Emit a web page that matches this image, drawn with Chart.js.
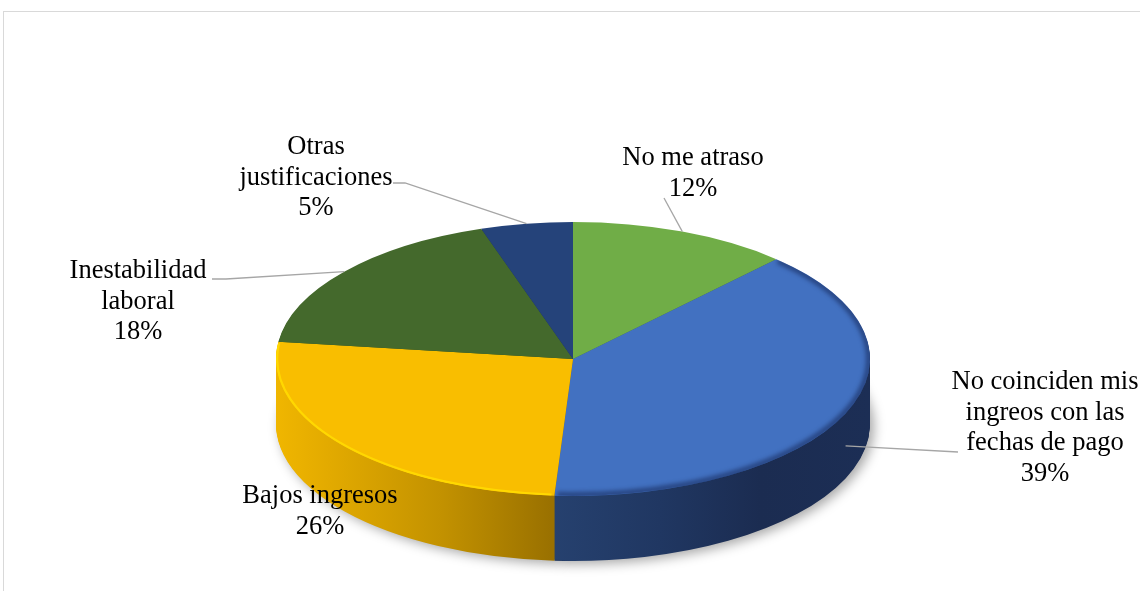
<!DOCTYPE html>
<html>
<head>
<meta charset="utf-8">
<script src="https://cdn.jsdelivr.net/npm/chart.js@4"></script>
<style>
  body { margin: 0; background: #fff; }
  #wrap { position: absolute; left: 0; top: 0; width: 1140px; height: 591px; }
  .frame { position: absolute; left: 3px; top: 11px; right: 0; bottom: 0;
           border-left: 1px solid #d9d9d9; border-top: 1px solid #d9d9d9; }
  canvas { position: absolute; left: 0; top: 0; }
</style>
</head>
<body>
<div id="wrap">
  <div class="frame"></div>
  <canvas id="pie" width="1140" height="591"></canvas>
</div>
<script>
const categories = [
  ['No me atraso'],
  ['No coinciden mis', 'ingreos con las', 'fechas de pago'],
  ['Bajos ingresos'],
  ['Inestabilidad', 'laboral'],
  ['Otras', 'justificaciones']
];
const values = [12, 39, 26, 18, 5];

const topColors = ['#70ad47', '#4271c1', '#f9be00', '#44692c', '#25437a'];
// side wall gradients, stops given in page x
const sideStops = [
  [[276, '#5a8c38'], [870, '#3f6527']],
  [[551, '#26416f'], [660, '#203762'], [760, '#1b2c51'], [870, '#1c2e55']],
  [[276, '#f0b600'], [330, '#e2aa00'], [440, '#c39200'], [551, '#9a7100']],
  [[276, '#33511f'], [870, '#2a431a']],
  [[276, '#1c3360'], [870, '#162a50']]
];
// rim effect on the top face: [colour, width, blur] or null
const rimStyle = [null, ['rgba(22,40,88,0.6)', 6, 2], ['#ffd800', 2.5, 0.6], null, null];

// ellipse the pie is laid onto
const PIE = { x: 573, y: 359, rx: 297, ry: 137, depth: 65 };

const labelPos = [
  { x: 693, y: 158, from: [664, 198] },
  { x: 1045, y: 382, from: [958, 452] },
  { x: 320, y: 496 },
  { x: 138, y: 271, from: [212, 279], elbow: 226 },
  { x: 316, y: 147, from: [393, 183], elbow: 405 }
];

function toPie(ctx, arc, dy) {
  const R = arc.outerRadius;
  ctx.translate(PIE.x, PIE.y + dy);
  ctx.scale(PIE.rx / R, PIE.ry / R);
  ctx.translate(-arc.x, -arc.y);
}

function sideFill(ctx, arc, stops) {
  const R = arc.outerRadius;
  const lx = sx => arc.x + (sx - PIE.x) * R / PIE.rx;
  const x0 = stops[0][0], x1 = stops[stops.length - 1][0];
  const g = ctx.createLinearGradient(lx(x0), 0, lx(x1), 0);
  stops.forEach(([sx, c]) => g.addColorStop((sx - x0) / (x1 - x0), c));
  return g;
}

function drawArcAs(ctx, arc, fill) {
  const el = Object.create(arc);
  el.options = Object.assign({}, arc.options, { backgroundColor: fill, borderWidth: 0 });
  el.draw(ctx);
}

const pie3d = {
  id: 'pie3d',
  beforeDatasetsDraw(chart) {
    const ctx = chart.ctx;
    const arcs = chart.getDatasetMeta(0).data;
    const fills = arcs.map((a, i) => sideFill(ctx, a, sideStops[i]));
    for (let d = PIE.depth; d >= 1; d--) {
      ctx.save();
      if (d === PIE.depth) {
        ctx.shadowColor = 'rgba(0,0,0,0.35)';
        ctx.shadowBlur = 12;
        ctx.shadowOffsetX = 4;
        ctx.shadowOffsetY = 3;
      }
      toPie(ctx, arcs[0], d);
      arcs.forEach((a, i) => drawArcAs(ctx, a, fills[i]));
      ctx.restore();
    }
    ctx.save();
    toPie(ctx, arcs[0], 0);
  },
  afterDatasetsDraw(chart) {
    const ctx = chart.ctx;
    ctx.restore();
    // soft bevel along the outer edge of the top face
    const arcs = chart.getDatasetMeta(0).data;
    ctx.save();
    ctx.beginPath();
    ctx.ellipse(PIE.x, PIE.y, PIE.rx, PIE.ry, 0, 0, Math.PI * 2);
    ctx.clip();
    arcs.forEach((a, i) => {
      const st = rimStyle[i];
      if (!st) return;
      ctx.save();
      ctx.filter = 'blur(' + st[2] + 'px)';
      ctx.strokeStyle = st[0];
      ctx.lineWidth = st[1];
      ctx.beginPath();
      ctx.ellipse(PIE.x, PIE.y, PIE.rx - 1, PIE.ry - 1, 0, a.startAngle + 0.01, a.endAngle - 0.01);
      ctx.stroke();
      ctx.restore();
    });
    ctx.restore();
  },
  afterDraw(chart) {
    const ctx = chart.ctx;
    const arcs = chart.getDatasetMeta(0).data;
    const total = values.reduce((s, v) => s + v, 0);
    ctx.save();
    ctx.font = '26.5px "Liberation Serif", "Times New Roman", serif';
    ctx.fillStyle = '#000';
    ctx.textAlign = 'center';
    ctx.textBaseline = 'middle';
    ctx.strokeStyle = '#a6a6a6';
    ctx.lineWidth = 1.3;
    arcs.forEach((a, i) => {
      const p = labelPos[i];
      const lines = categories[i].concat(Math.round(values[i] / total * 100) + '%');
      lines.forEach((t, k) => ctx.fillText(t, p.x, p.y + k * 30.7));
      if (p.from) {
        const mid = (a.startAngle + a.endAngle) / 2;
        const s = Math.sin(mid);
        const ax = PIE.x + PIE.rx * Math.cos(mid);
        const ay = PIE.y + PIE.ry * s + (s > 0.2 ? PIE.depth / 2 : 0);
        ctx.beginPath();
        ctx.moveTo(p.from[0], p.from[1]);
        if (p.elbow) ctx.lineTo(p.elbow, p.from[1]);
        ctx.lineTo(ax, ay);
        ctx.stroke();
      }
    });
    ctx.restore();
  }
};

new Chart(document.getElementById('pie'), {
  type: 'pie',
  data: {
    labels: categories,
    datasets: [{
      data: values,
      backgroundColor: topColors,
      borderWidth: 0,
      clip: false
    }]
  },
  options: {
    responsive: false,
    animation: false,
    events: [],
    layout: { padding: 0 },
    plugins: {
      legend: { display: false },
      tooltip: { enabled: false }
    }
  },
  plugins: [pie3d]
});
</script>
</body>
</html>
